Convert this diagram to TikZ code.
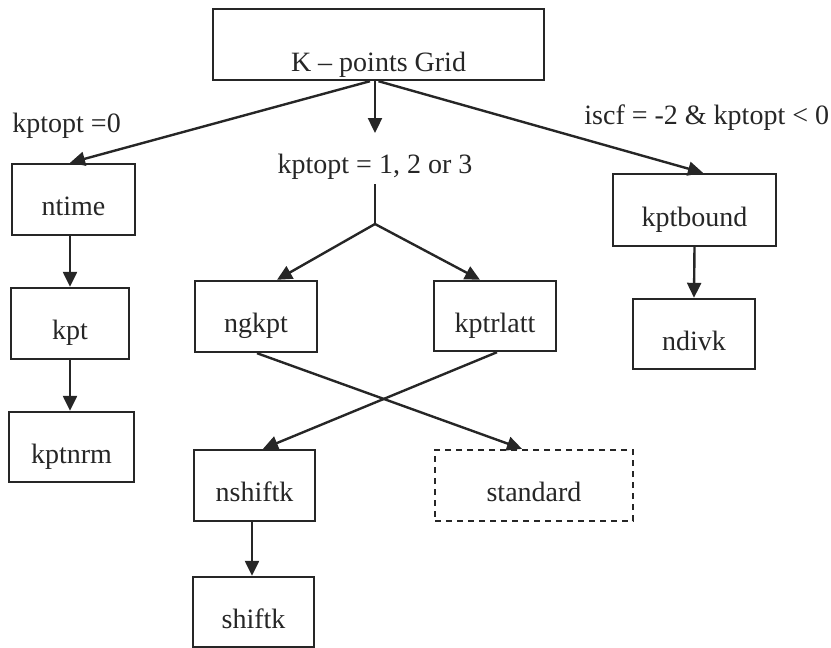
\documentclass[tikz,border=0pt]{standalone}
\usepackage{fontspec}
\setmainfont{Liberation Serif}
\usetikzlibrary{arrows.meta}
\definecolor{ink}{HTML}{262626}
\tikzset{
  box/.style={draw=ink, line width=1.2pt, rectangle, inner xsep=0pt, inner ysep=0pt,
    text=ink, text height=19pt, text depth=3pt, font=\fontsize{14}{16.8}\selectfont},
  dashbox/.style={box, dash pattern=on 3pt off 2.5pt},
  lbl/.style={inner sep=0pt, text=ink, font=\fontsize{14}{16.8}\selectfont},
  arr/.style={draw=ink, line width=1.2pt, -{Triangle[length=7.5pt,width=7pt]}},
  ln/.style={draw=ink, line width=1.2pt}
}
\begin{document}
\begin{tikzpicture}[x=0.5pt, y=-0.5pt]
\useasboundingbox (0,0) rectangle (831,648);

% boxes
\node[box, minimum width=165.5pt, minimum height=35.5pt, text height=29.5pt] (K) at (378.5,44.5) {K -- points Grid};
\node[box, minimum width=61.5pt, minimum height=35.5pt] (ntime) at (73.5,199.5) {ntime};
\node[box, minimum width=59pt, minimum height=35.5pt] (kpt) at (70,323.5) {kpt};
\node[box, minimum width=62.5pt, minimum height=35pt] (kptnrm) at (71.5,447) {kptnrm};
\node[box, minimum width=61pt, minimum height=35.5pt] (ngkpt) at (256,316.5) {ngkpt};
\node[box, minimum width=61pt, minimum height=35pt] (kptrlatt) at (495,316) {kptrlatt};
\node[box, minimum width=60.5pt, minimum height=35.5pt] (nshiftk) at (254.5,485.5) {nshiftk};
\node[dashbox, minimum width=99pt, minimum height=35.5pt] (standard) at (534,485.5) {standard};
\node[box, minimum width=60.5pt, minimum height=35pt] (shiftk) at (253.5,612) {shiftk};
\node[box, minimum width=81.5pt, minimum height=36pt] (kptbound) at (694.5,210) {kptbound};
\node[box, minimum width=61pt, minimum height=35pt] (ndivk) at (694,334) {ndivk};

% condition labels
\node[lbl, anchor=base west] (c0) at (12,132) {kptopt =0};
\node[lbl, anchor=base] (c1) at (375,173) {kptopt = 1, 2 or 3};
\node[lbl, anchor=base west] (c2) at (584,124) {iscf = -2 \& kptopt < 0};

% helper points of the middle branch
\coordinate (tipmid) at (375,133);
\coordinate (stem) at (375,184);
\coordinate (fork) at (375,224);

% connectors
\draw[arr] ([xshift=-4.25pt]K.south) -- ([xshift=-1.75pt]ntime.north);
\draw[arr] ([xshift=-1.75pt]K.south) -- (tipmid);
\draw[arr] (K.south) -- ([xshift=4.25pt]kptbound.north);

\draw[ln] (stem) -- (fork);
\draw[arr] (fork) -- ([xshift=10.5pt]ngkpt.north);
\draw[arr] (fork) -- ([xshift=-7.5pt]kptrlatt.north);

\draw[arr] ([xshift=-1.75pt]ntime.south) -- (kpt.north);
\draw[arr] (kpt.south) -- ([xshift=-0.75pt]kptnrm.north);

\draw[arr] ([xshift=0.5pt]ngkpt.south) -- ([xshift=-6pt]standard.north);
\draw[arr] ([xshift=1pt]kptrlatt.south) -- ([xshift=4.25pt]nshiftk.north);
\draw[arr] ([xshift=-1.25pt]nshiftk.south) -- ([xshift=-0.75pt]shiftk.north);

\draw[arr] (kptbound.south) -- (ndivk.north);
\end{tikzpicture}
\end{document}
